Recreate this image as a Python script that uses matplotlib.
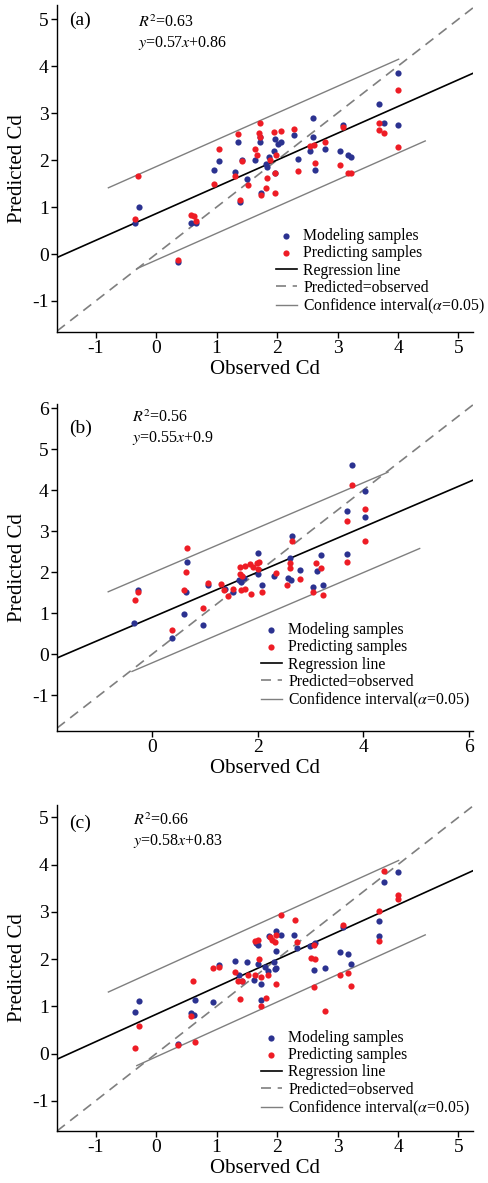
import matplotlib
matplotlib.use("Agg")
import matplotlib.pyplot as plt
import numpy as np

plt.rcParams['font.family'] = ['Liberation Serif', 'DejaVu Serif']
plt.rcParams['mathtext.fontset'] = 'stix'
plt.rcParams['axes.unicode_minus'] = False

# ---- data ----
# panel (a)
a_model = [(4.0, 3.86), (3.68, 3.20), (3.76, 2.79), (4.0, 2.75), (2.60, 2.89), (2.60, 2.50),
           (3.09, 2.74), (2.28, 2.53), (2.54, 2.20), (2.79, 2.24), (3.04, 2.19), (3.17, 2.11),
           (3.23, 2.07), (2.34, 2.02), (2.62, 1.79), (1.97, 2.44), (2.01, 2.35), (2.07, 2.38),
           (1.95, 2.20), (1.87, 2.06), (1.81, 1.91), (1.84, 1.86), (1.97, 1.72), (1.64, 2.01),
           (1.71, 2.50), (1.71, 2.39), (1.35, 2.39), (1.04, 1.99), (0.95, 1.79), (1.30, 1.75),
           (1.42, 2.00), (1.51, 1.60), (1.74, 1.30), (1.38, 1.11), (-0.28, 0.99), (-0.35, 0.67),
           (0.58, 0.67), (0.66, 0.65), (0.36, -0.16)]
a_pred = [(4.0, 3.50), (4.0, 2.27), (3.68, 2.78), (3.68, 2.64), (3.76, 2.57), (3.09, 2.71),
          (2.28, 2.66), (2.54, 2.30), (2.61, 2.32), (2.79, 2.39), (2.62, 1.94), (3.04, 1.89),
          (3.17, 1.73), (3.23, 1.72), (2.34, 1.77), (2.07, 2.62), (1.95, 2.60), (1.72, 2.79),
          (1.70, 2.58), (1.71, 2.48), (1.35, 2.55), (1.04, 2.24), (1.64, 2.23), (1.67, 2.11),
          (1.42, 1.99), (1.98, 2.11), (1.89, 2.00), (1.97, 1.73), (1.30, 1.67), (0.95, 1.48),
          (1.52, 1.47), (1.84, 1.62), (-0.30, 1.66), (1.39, 1.14), (1.74, 1.26), (1.81, 1.40),
          (1.97, 1.29), (-0.35, 0.74), (0.58, 0.84), (0.63, 0.81), (0.66, 0.71), (0.36, -0.13)]

# panel (b)
b_model = [(3.78, 4.62), (4.03, 3.97), (3.70, 3.49), (4.03, 3.35), (3.70, 2.45), (2.65, 2.88),
           (2.61, 2.34), (2.81, 2.05), (3.20, 2.41), (3.12, 2.03), (2.58, 1.86), (2.63, 1.80),
           (3.05, 1.63), (3.24, 1.69), (2.01, 2.48), (2.00, 1.96), (2.08, 1.68), (2.31, 1.92),
           (0.66, 2.25), (0.64, 1.53), (-0.27, 1.57), (-0.34, 0.76), (0.60, 0.97), (0.97, 0.72),
           (0.38, 0.40), (1.06, 1.70), (1.38, 1.60), (1.53, 1.52), (1.64, 1.82), (1.74, 1.86),
           (1.69, 1.76)]
b_pred = [(3.78, 4.13), (4.03, 3.54), (3.70, 3.26), (4.03, 2.75), (3.70, 2.26), (2.65, 2.77),
          (2.61, 2.23), (2.61, 2.11), (2.81, 1.83), (3.11, 2.22), (3.21, 2.10), (2.56, 1.70),
          (3.05, 1.52), (3.24, 1.44), (2.08, 1.53), (2.34, 1.98), (0.66, 2.59), (0.64, 2.00),
          (0.60, 1.57), (-0.27, 1.52), (-0.33, 1.33), (0.97, 1.14), (0.38, 0.60), (1.06, 1.74),
          (1.31, 1.71), (1.36, 1.57), (1.44, 1.43), (1.53, 1.60), (1.69, 1.56), (1.76, 1.60),
          (1.87, 1.46), (1.66, 2.12), (1.76, 2.16), (1.85, 2.19), (1.91, 2.12), (1.98, 2.22),
          (2.00, 2.09), (2.02, 2.26), (1.66, 1.96), (1.70, 1.92)]

# panel (c)
c_model = [(4.0, 3.85), (3.76, 3.64), (3.69, 2.80), (3.69, 2.48), (3.09, 2.68), (3.17, 2.11),
           (3.04, 2.15), (3.23, 1.89), (2.79, 1.82), (2.61, 1.76), (2.62, 2.33), (2.55, 2.27),
           (2.33, 2.24), (2.28, 2.50), (2.07, 2.50), (1.99, 2.59), (1.99, 2.18), (1.99, 1.80),
           (1.86, 2.48), (1.65, 2.33), (1.68, 2.29), (1.30, 1.96), (1.51, 1.94), (1.04, 1.87),
           (1.69, 1.90), (1.80, 1.83), (1.95, 1.94), (1.97, 1.78), (1.85, 1.75), (1.37, 1.66),
           (1.42, 1.54), (1.62, 1.55), (1.73, 1.47), (1.74, 1.14), (0.65, 1.14), (0.94, 1.09),
           (-0.28, 1.11), (-0.35, 0.88), (0.58, 0.86), (0.62, 0.81), (0.36, 0.21)]
c_pred = [(3.76, 3.86), (4.0, 3.36), (4.0, 3.26), (3.69, 3.01), (3.69, 2.38), (3.09, 2.71),
          (2.29, 2.82), (2.07, 2.94), (2.33, 2.36), (2.61, 2.30), (2.56, 2.02), (2.62, 2.01),
          (3.17, 1.71), (3.04, 1.66), (3.23, 1.43), (2.61, 1.40), (2.79, 0.89), (1.99, 1.47),
          (1.64, 2.38), (1.69, 2.40), (1.88, 2.47), (1.91, 2.40), (1.96, 2.36), (1.99, 2.50),
          (1.70, 2.01), (0.94, 1.80), (1.04, 1.83), (1.30, 1.73), (1.52, 1.66), (1.63, 1.66),
          (1.73, 1.63), (1.85, 1.66), (1.35, 1.54), (1.42, 1.54), (0.61, 1.54), (1.38, 1.15),
          (1.81, 1.18), (1.73, 1.01), (0.58, 0.79), (-0.29, 0.58), (-0.35, 0.11), (0.36, 0.18),
          (0.65, 0.25)]

panels = [
    dict(lab="(a)", r2="0.63", k=0.57, b=0.86, xlim=(-1.64, 5.24), ylim=(-1.66, 5.3),
         xt=[-1, 0, 1, 2, 3, 4, 5], yt=[-1, 0, 1, 2, 3, 4, 5], eq="0.57$x$+0.86",
         up=(-0.79, 4.01, 1.0), lo=(-0.32, 4.45, -0.99), model=a_model, pred=a_pred),
    dict(lab="(b)", r2="0.56", k=0.55, b=0.9, xlim=(-1.8, 6.08), ylim=(-1.87, 6.1),
         xt=[0, 2, 4, 6], yt=[-1, 0, 1, 2, 3, 4, 5, 6], eq="0.55$x$+0.9",
         up=(-0.83, 4.47, 1.08), lo=(-0.38, 5.07, -1.11), model=b_model, pred=b_pred),
    dict(lab="(c)", r2="0.66", k=0.58, b=0.83, xlim=(-1.64, 5.24), ylim=(-1.64, 5.26),
         xt=[-1, 0, 1, 2, 3, 4, 5], yt=[-1, 0, 1, 2, 3, 4, 5], eq="0.58$x$+0.83",
         up=(-0.79, 4.01, 0.93), lo=(-0.32, 4.45, -0.90), model=c_model, pred=c_pred),
]

# layout in figure fractions (pixel boxes)
boxes = [(57, 5, 473, 332), (57, 404, 473, 731), (57, 805, 473, 1131)]
text_pos = [(0.029, 0.954, 0.195, 0.945, 0.885),
            (0.029, 0.926, 0.180, 0.958, 0.895),
            (0.029, 0.944, 0.183, 0.951, 0.890)]
leg_pos = [(0.526, 0.318), (0.49, 0.333), (0.49, 0.31)]

W, H = 488, 1183
fig = plt.figure(figsize=(W / 100, H / 100), dpi=100)

blue = "#2b3290"
red = "#ee1c25"
grey = "#7f7f7f"

for p, box, tp, lp in zip(panels, boxes, text_pos, leg_pos):
    l, t, r, btm = box
    ax = fig.add_axes([l / W, 1 - btm / H, (r - l) / W, (btm - t) / H])
    for s in ['top', 'right']:
        ax.spines[s].set_visible(False)
    ax.spines['left'].set_linewidth(1.0)
    ax.spines['bottom'].set_linewidth(1.0)

    x0, x1 = p['xlim']
    xs = np.array([x0, x1])
    ax.plot(xs, xs, ls=(0, (6, 4)), color=grey, lw=1.2, label="Predicted=observed", zorder=2)
    ax.plot(xs, p['k'] * xs + p['b'], color='black', lw=1.2, label="Regression line", zorder=2)
    u = np.array(p['up'][:2])
    ax.plot(u, p['k'] * u + p['b'] + p['up'][2], color=grey, lw=1.0,
            label="Confidence interval($\\alpha$=0.05)", zorder=2)
    d = np.array(p['lo'][:2])
    ax.plot(d, p['k'] * d + p['b'] + p['lo'][2], color=grey, lw=1.0, zorder=2)

    m = np.array(p['model'])
    q = np.array(p['pred'])
    ax.scatter(m[:, 0], m[:, 1], s=20, color=blue, lw=0, label="Modeling samples", zorder=3)
    ax.scatter(q[:, 0], q[:, 1], s=20, color=red, lw=0, label="Predicting samples", zorder=3)

    ax.set_xlim(p['xlim'])
    ax.set_ylim(p['ylim'])
    ax.set_xticks(p['xt'])
    ax.set_yticks(p['yt'])
    ax.tick_params(direction='out', length=4, width=1, labelsize=14, pad=2)
    ax.set_xlabel("Observed Cd", fontsize=15, labelpad=2)
    ax.set_ylabel("Predicted Cd", fontsize=15, labelpad=4)

    ax.text(tp[0], tp[1], p['lab'], transform=ax.transAxes, fontsize=14, va='center')
    ax.text(tp[2], tp[3], "$R^2$=" + p['r2'], transform=ax.transAxes, fontsize=11.5, va='center')
    ax.text(tp[2], tp[4], "$y$=" + p['eq'], transform=ax.transAxes, fontsize=11.5, va='center')

    h, lb = ax.get_legend_handles_labels()
    order = [3, 4, 1, 0, 2]
    ax.legend([h[i] for i in order], [lb[i] for i in order], loc='upper left',
              bbox_to_anchor=lp, frameon=False, fontsize=11.3, borderpad=0, borderaxespad=0,
              handlelength=1.35, handletextpad=0.4, labelspacing=0.08)

fig.savefig("out.png", dpi=100)
